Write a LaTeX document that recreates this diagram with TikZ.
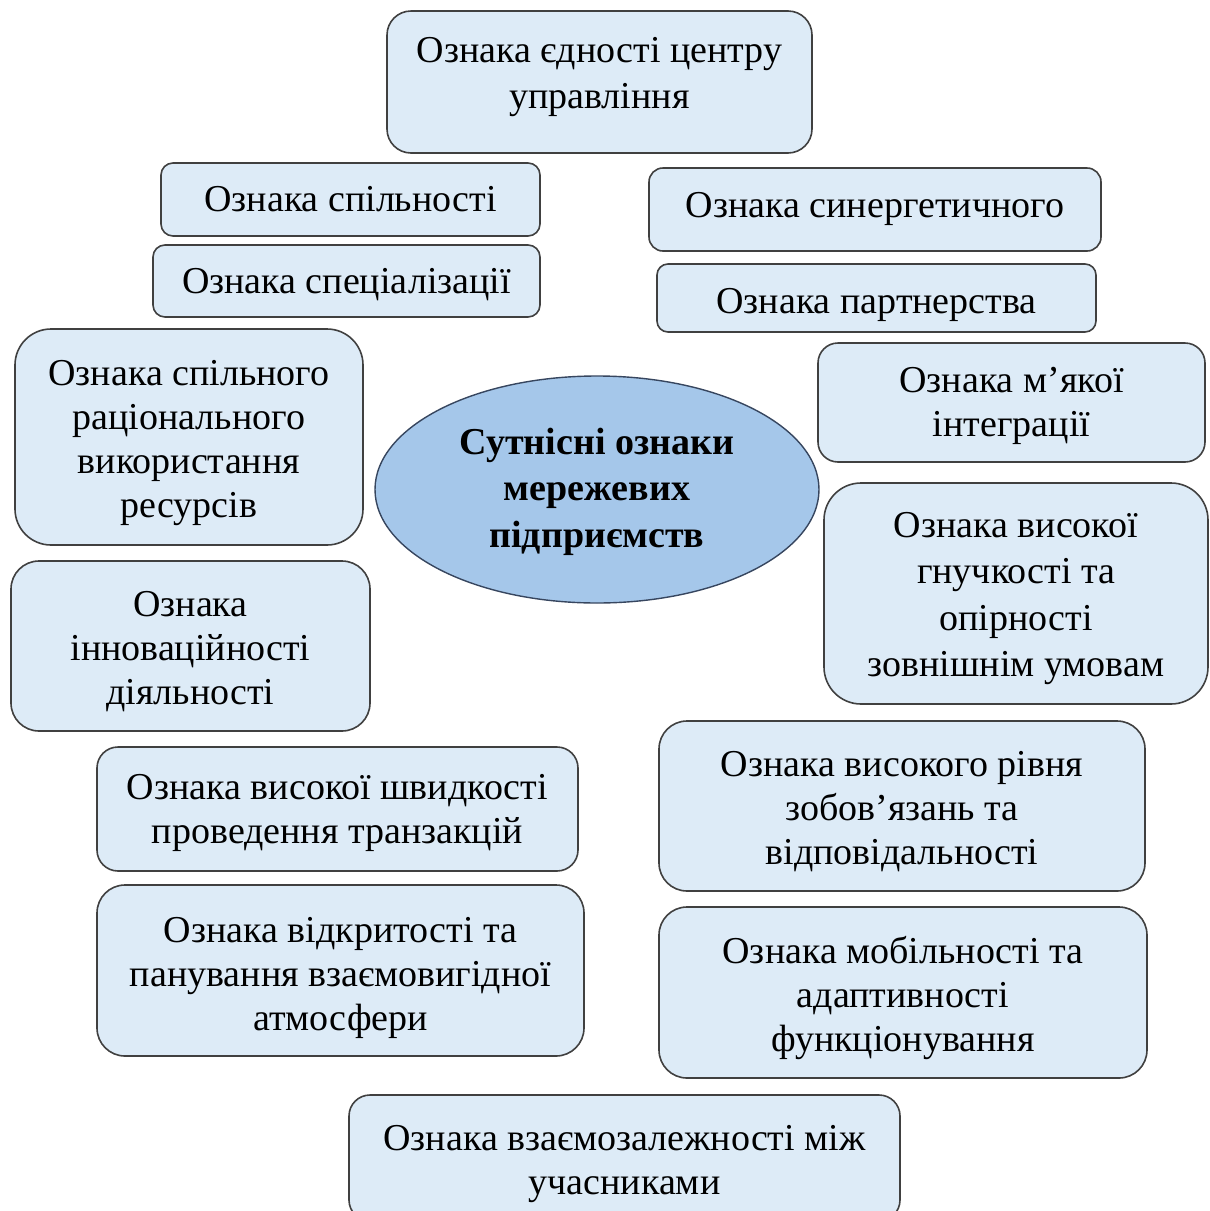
\documentclass[tikz,border=0pt]{standalone}
\usepackage{fontspec}
\setmainfont{Liberation Serif}
\usetikzlibrary{shapes.geometric}
\definecolor{boxc}{RGB}{221,235,247}
\definecolor{bordc}{RGB}{64,64,64}
\definecolor{ellc}{RGB}{165,199,234}
\definecolor{ellb}{RGB}{55,70,95}
\newcommand\fsn{\fontsize{38}{44}\selectfont}
\newcommand\fsw{\fontsize{38}{46.5}\selectfont}
% name, x1, y1, x2, y2, radius, text, font, text offset (down)
\newcommand\mybox[9]{%
  \node[box, rounded corners=#6, minimum width={#4-#2}, minimum height={#5-#3}]
    (#1) at ({(#2+#4)/2},{(#3+#5)/2}) {};
  \node[lbl, font=#8] (#1t) at ({(#2+#4)/2},{(#3+#5)/2+#9}) {#7};}
\begin{document}
\begin{tikzpicture}[x=1pt,y=-1pt,
  box/.style={draw=bordc, fill=boxc, line width=1.6pt, inner sep=0pt},
  lbl/.style={align=center, inner sep=0pt, text=black},
  ell/.style={ellipse, draw=ellb, fill=ellc, line width=1.4pt, align=center, inner sep=0pt, text=black}]
\useasboundingbox (0,0) rectangle (1210,1211);
\clip (0,0) rectangle (1210,1211);
\fill[white] (0,0) rectangle (1210,1211);
\mybox{b1}{387}{11}{812}{153}{24}{Ознака єдності центру\\управління}{\fsw}{-5}
\mybox{b2}{161}{163}{540}{236}{12}{Ознака спільності}{\fsn}{0}
\mybox{b3}{153}{245}{540}{317}{12}{Ознака спеціалізації}{\fsn}{4}
\mybox{b4}{649}{168}{1101}{251}{14}{Ознака синергетичного}{\fsn}{-1}
\mybox{b5}{657}{264}{1096}{332}{11}{Ознака партнерства}{\fsn}{7}
\mybox{b6}{15}{329}{363}{545}{36}{Ознака спільного\\раціонального\\використання\\ресурсів}{\fsn}{6}
\mybox{b8}{818}{343}{1205}{462}{20}{Ознака м’якої\\інтеграції}{\fsn}{3.5}
\mybox{b9}{824}{483}{1208}{704}{37}{Ознака високої\\гнучкості та\\опірності\\зовнішнім умовам}{\fsw}{5}
\mybox{b10}{11}{561}{370}{731}{28}{Ознака\\інноваційності\\діяльності}{\fsn}{6}
\mybox{b11}{97}{747}{578}{871}{21}{Ознака високої швидкості\\проведення транзакцій}{\fsn}{4}
\mybox{b12}{659}{721}{1145}{891}{28}{Ознака високого рівня\\зобов’язань та\\відповідальності}{\fsn}{6}
\mybox{b13}{97}{885}{584}{1056}{28}{Ознака відкритості та\\панування взаємовигідної\\атмосфери}{\fsn}{7}
\mybox{b14}{659}{907}{1147}{1078}{28}{Ознака мобільності та\\адаптивності\\функціонування}{\fsn}{5}
\mybox{b15}{349}{1095}{900}{1221}{21}{Ознака взаємозалежності між\\учасниками}{\fsn}{6}
\node[ell, minimum width=444, minimum height=227] (c) at (597,489.5) {};
\node[lbl, font={\fsw\bfseries}] (ct) at (597,491.5) {Сутнісні ознаки\\мережевих\\підприємств};
\end{tikzpicture}
\end{document}
